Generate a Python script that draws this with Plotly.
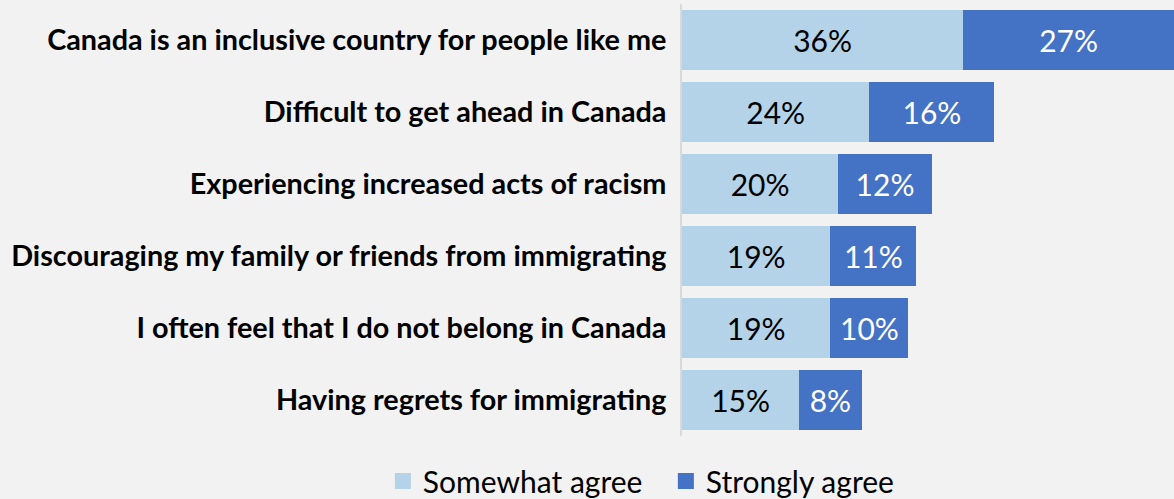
import plotly.graph_objects as go

categories = [
    "Canada is an inclusive country for people like me",
    "Difficult to get ahead in Canada",
    "Experiencing increased acts of racism",
    "Discouraging my family or friends from immigrating",
    "I often feel that I do not belong in Canada",
    "Having regrets for immigrating",
]
somewhat = [36, 24, 20, 19, 19, 15]
strongly = [27, 16, 12, 11, 10, 8]
series_names = ["Somewhat agree", "Strongly agree"]
colors = ["#B4D3E8", "#4472C4"]
label_colors = ["#000000", "#FFFFFF"]

FONT = "Lato"
fig = go.Figure()
for name, vals, col, lc in zip(series_names, [somewhat, strongly], colors, label_colors):
    fig.add_trace(go.Bar(
        y=categories, x=vals, orientation="h", name=name,
        marker=dict(color=col, line=dict(width=0)),
        text=[f"{v}%" for v in vals], textposition="inside",
        insidetextanchor="middle", textangle=0,
        textfont=dict(family=FONT, size=30, color=lc),
        showlegend=False, hoverinfo="skip",
    ))
    fig.add_trace(go.Scatter(
        x=[None], y=[None], mode="markers", name=name,
        marker=dict(symbol="square", size=17, color=col),
        showlegend=True,
    ))

fig.update_layout(
    barmode="stack",
    bargap=0.16,
    width=1174, height=499,
    margin=dict(l=682, r=0, t=4, b=63, autoexpand=False),
    paper_bgcolor="#F2F2F2", plot_bgcolor="#F2F2F2",
    uniformtext=dict(mode=False),
    xaxis=dict(range=[0, 63], visible=False, showgrid=False, zeroline=False),
    yaxis=dict(
        categoryorder="array", categoryarray=categories, autorange="reversed",
        showline=True, linecolor="#D9D9D9", linewidth=1.5,
        ticks="", ticklabelstandoff=8,
        tickfont=dict(family=FONT, size=28.8, color="#000000", weight="bold"),
        showgrid=False, zeroline=False,
    ),
    legend=dict(
        orientation="h", xref="paper", yref="paper",
        x=-0.608, y=-0.104, xanchor="left", yanchor="middle",
        font=dict(family=FONT, size=30, color="#000000"),
        itemwidth=30, traceorder="normal",
        entrywidth=238, entrywidthmode="pixels",
        bgcolor="rgba(0,0,0,0)",
    ),
)
fig.write_html("out.html")
